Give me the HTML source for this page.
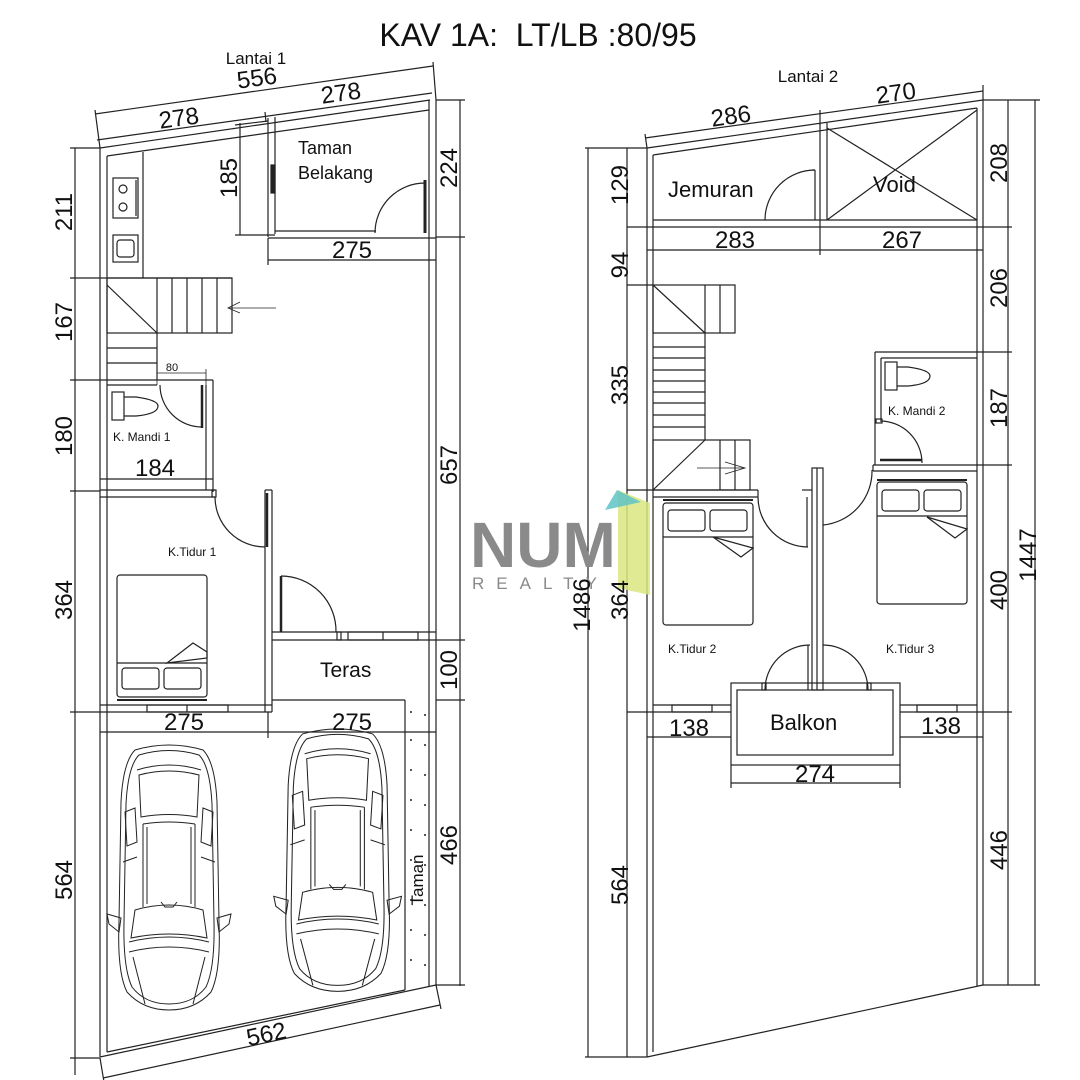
<!DOCTYPE html>
<html><head><meta charset="utf-8"><style>
html,body{margin:0;padding:0;background:#fff}
svg{display:block}
text{font-family:"Liberation Sans",sans-serif;fill:#111}
</style></head><body>
<svg width="1080" height="1080" viewBox="0 0 1080 1080" xmlns="http://www.w3.org/2000/svg">
<defs>
<g id="car" fill="none" stroke="#222" stroke-width="1">
<path d="M20,8 Q54,-2 88,8 Q100,20 102,60 L104,180 Q106,230 96,250 Q80,268 54,268 Q28,268 12,250 Q2,230 4,180 L6,60 Q8,20 20,8 Z"/>
<path d="M24,13 Q54,4 84,13 Q95,24 97,62 L99,180 Q100,226 91,245 Q78,262 54,262 Q30,262 17,245 Q8,226 9,180 L11,62 Q13,24 24,13 Z"/>
<path d="M24,33 Q54,25 84,33 L82,75 Q54,70 26,75 Z"/>
<path d="M22,28 Q54,18 86,28"/>
<path d="M28,82 L28,165 M80,82 L80,165 M32,85 L32,162 M76,85 L76,162"/>
<path d="M28,82 Q54,78 80,82"/>
<path d="M20,168 Q54,158 88,168 L92,196 Q54,188 16,196 Z"/>
<path d="M46,160 L50,165 L58,165 L62,160"/>
<path d="M14,200 Q54,190 94,200 M14,210 Q54,200 94,210"/>
<path d="M18,215 L30,262 M90,215 L78,262"/>
<path d="M10,70 L20,66 L22,100 L12,104 Z M98,70 L88,66 L86,100 L96,104 Z"/>
<path d="M8,120 L22,115 M100,120 L86,115"/>
<path d="M6,176 L-8,172 L-6,182 L4,190 Z M102,176 L116,172 L114,182 L104,190 Z"/>
</g>
</defs>

<!-- Titles -->
<text x="538" y="46" font-size="32" text-anchor="middle">KAV 1A:&#160; LT/LB :80/95</text>
<text x="256" y="64" font-size="17" text-anchor="middle">Lantai 1</text>
<text x="808" y="82" font-size="17" text-anchor="middle">Lantai 2</text>

<g fill="none" stroke="#222" stroke-width="1.2">
<!-- ===== LANTAI 1 ===== -->
<line x1="95" y1="114" x2="433" y2="66"/>
<line x1="97" y1="140" x2="432" y2="93"/>
<line x1="95" y1="110" x2="100" y2="148"/>
<line x1="433" y1="62" x2="436" y2="100"/>
<line x1="265" y1="112" x2="266" y2="122"/>
<polyline points="100,148 430,100"/>
<polyline points="107,156 429,110"/>
<line x1="100" y1="148" x2="100" y2="1057"/>
<line x1="107" y1="156" x2="107" y2="1052"/>
<line x1="429" y1="100" x2="429" y2="986"/>
<line x1="436" y1="100" x2="436" y2="986"/>
<line x1="100" y1="1057" x2="436" y2="985"/>
<line x1="107" y1="1052" x2="405" y2="990"/>
<line x1="75" y1="148" x2="75" y2="1075"/>
<line x1="70" y1="148" x2="100" y2="148"/>
<line x1="70" y1="278" x2="232" y2="278"/>
<line x1="70" y1="380" x2="107" y2="380"/>
<line x1="70" y1="491" x2="100" y2="491"/>
<line x1="70" y1="712" x2="100" y2="712"/>
<line x1="70" y1="1058" x2="100" y2="1058"/>
<line x1="460" y1="100" x2="460" y2="986"/>
<line x1="436" y1="100" x2="465" y2="100"/>
<line x1="436" y1="237" x2="465" y2="237"/>
<line x1="436" y1="640" x2="465" y2="640"/>
<line x1="436" y1="700" x2="465" y2="700"/>
<line x1="436" y1="985" x2="465" y2="985"/>
<line x1="143" y1="152" x2="143" y2="278"/>
<rect x="113" y="178" width="25" height="40"/>
<circle cx="123" cy="189" r="4"/><circle cx="123" cy="207" r="4"/>
<line x1="136" y1="180" x2="136" y2="216"/>
<rect x="113" y="235" width="25" height="27"/>
<rect x="117" y="240" width="17" height="17" rx="3"/>
<line x1="240" y1="123" x2="240" y2="235"/>
<line x1="235" y1="125" x2="268" y2="121"/>
<line x1="235" y1="235" x2="275" y2="235"/>
<line x1="268" y1="118" x2="268" y2="237"/>
<line x1="275" y1="117" x2="275" y2="234"/>
<line x1="268" y1="238" x2="436" y2="238"/>
<line x1="275" y1="231" x2="376" y2="231"/>
<rect x="271" y="165" width="4" height="28" fill="#222"/>
<line x1="425" y1="180" x2="425" y2="233" stroke-width="3"/>
<path d="M375,233 A50,50 0 0 1 425,183"/>
<line x1="268" y1="260" x2="436" y2="260"/>
<line x1="268" y1="238" x2="268" y2="265"/>
<rect x="107" y="278" width="125" height="55"/>
<line x1="157" y1="278" x2="157" y2="380"/>
<line x1="172" y1="278" x2="172" y2="333"/>
<line x1="187" y1="278" x2="187" y2="333"/>
<line x1="202" y1="278" x2="202" y2="333"/>
<line x1="217" y1="278" x2="217" y2="333"/>
<line x1="107" y1="285" x2="157" y2="333"/>
<line x1="107" y1="348" x2="157" y2="348"/>
<line x1="107" y1="363" x2="157" y2="363"/>
<line x1="276" y1="308" x2="228" y2="308" stroke-width="0.8"/>
<path d="M240,302 L228,308 L240,313" stroke-width="0.8"/>
<line x1="107" y1="380" x2="213" y2="380"/>
<line x1="107" y1="385" x2="157" y2="385"/>
<line x1="213" y1="380" x2="213" y2="492"/>
<line x1="206" y1="385" x2="206" y2="490"/>
<line x1="157" y1="373" x2="206" y2="373" stroke-width="0.8"/>
<line x1="157" y1="369" x2="157" y2="385" stroke-width="0.8"/>
<line x1="206" y1="369" x2="206" y2="385" stroke-width="0.8"/>
<line x1="202" y1="385" x2="202" y2="428" stroke-width="2.5"/>
<path d="M160,385 A42,42 0 0 0 202,427"/>
<rect x="112" y="392" width="12" height="28"/>
<path d="M124,397 L136,397 Q158,400 158,406 Q158,414 136,416 L124,416"/>
<line x1="100" y1="479" x2="213" y2="479"/>
<line x1="100" y1="490" x2="215" y2="490"/>
<line x1="100" y1="497" x2="215" y2="497"/>
<rect x="212" y="490" width="4" height="7"/>
<line x1="265" y1="490" x2="265" y2="712"/>
<line x1="272" y1="490" x2="272" y2="712"/>
<line x1="265" y1="490" x2="272" y2="490"/>
<line x1="267" y1="493" x2="267" y2="547" stroke-width="2.5"/>
<path d="M215,497 A50,50 0 0 0 265,547"/>
<rect x="117" y="575" width="90" height="122" rx="3"/>
<line x1="117" y1="663" x2="207" y2="663"/>
<rect x="122" y="668" width="37" height="21" rx="3"/>
<rect x="164" y="668" width="37" height="21" rx="3"/>
<path d="M167,663 L193,643 L207,652 L207,658 Z"/>
<line x1="117" y1="700" x2="207" y2="700" stroke-width="2"/>
<line x1="100" y1="705" x2="272" y2="705"/>
<line x1="100" y1="712" x2="272" y2="712"/>
<rect x="147" y="705" width="81" height="7"/>
<line x1="187" y1="705" x2="187" y2="712"/>
<line x1="272" y1="632" x2="436" y2="632"/>
<line x1="272" y1="640" x2="436" y2="640"/>
<line x1="281" y1="576" x2="281" y2="632" stroke-width="2.5"/>
<path d="M281,576 A55,55 0 0 1 336,632"/>
<rect x="337" y="632" width="4" height="8"/>
<rect x="348" y="632" width="70" height="8"/>
<line x1="383" y1="632" x2="383" y2="640"/>
<line x1="272" y1="700" x2="405" y2="700"/>
<line x1="405" y1="700" x2="405" y2="990"/>
<line x1="268" y1="732" x2="436" y2="732"/>
<line x1="100" y1="732" x2="268" y2="732"/>
<line x1="268" y1="712" x2="268" y2="738"/>
<line x1="103" y1="1078" x2="440" y2="1005"/>
<line x1="100" y1="1058" x2="104" y2="1082"/>
<line x1="436" y1="985" x2="441" y2="1009"/>

<!-- ===== LANTAI 2 ===== -->
<line x1="645" y1="138" x2="983" y2="91"/>
<line x1="645" y1="134" x2="647" y2="148"/>
<line x1="820" y1="110" x2="820" y2="125"/>
<line x1="983" y1="85" x2="983" y2="100"/>
<line x1="647" y1="148" x2="983" y2="100"/>
<line x1="653" y1="155" x2="977" y2="108"/>
<line x1="647" y1="148" x2="647" y2="1057"/>
<line x1="653" y1="155" x2="653" y2="1052"/>
<line x1="977" y1="108" x2="977" y2="986"/>
<line x1="983" y1="100" x2="983" y2="985"/>
<line x1="647" y1="1057" x2="983" y2="985"/>
<line x1="588" y1="148" x2="588" y2="1057"/>
<line x1="627" y1="148" x2="627" y2="1057"/>
<line x1="585" y1="148" x2="647" y2="148"/>
<line x1="627" y1="227" x2="647" y2="227"/>
<line x1="627" y1="285" x2="653" y2="285"/>
<line x1="627" y1="490" x2="653" y2="490"/>
<line x1="627" y1="712" x2="647" y2="712"/>
<line x1="585" y1="1057" x2="647" y2="1057"/>
<line x1="1008" y1="100" x2="1008" y2="985"/>
<line x1="1035" y1="100" x2="1035" y2="985"/>
<line x1="983" y1="100" x2="1040" y2="100"/>
<line x1="983" y1="227" x2="1012" y2="227"/>
<line x1="983" y1="352" x2="1012" y2="352"/>
<line x1="983" y1="465" x2="1012" y2="465"/>
<line x1="983" y1="712" x2="1012" y2="712"/>
<line x1="983" y1="985" x2="1040" y2="985"/>
<line x1="820" y1="124" x2="820" y2="227"/>
<line x1="827" y1="123" x2="827" y2="220"/>
<line x1="653" y1="220" x2="977" y2="220"/>
<line x1="647" y1="227" x2="983" y2="227"/>
<line x1="815" y1="170" x2="815" y2="220"/>
<line x1="812" y1="170" x2="815" y2="170"/>
<path d="M765,220 A50,50 0 0 1 815,170"/>
<line x1="827" y1="128" x2="977" y2="220"/>
<line x1="827" y1="220" x2="977" y2="110"/>
<line x1="647" y1="250" x2="983" y2="250"/>
<line x1="820" y1="227" x2="820" y2="255"/>
<rect x="653" y="285" width="82" height="48"/>
<line x1="705" y1="285" x2="705" y2="440"/>
<line x1="720" y1="285" x2="720" y2="333"/>
<line x1="653" y1="285" x2="705" y2="333"/>
<line x1="653" y1="347" x2="705" y2="347"/>
<line x1="653" y1="358" x2="705" y2="358"/>
<line x1="653" y1="370" x2="705" y2="370"/>
<line x1="653" y1="381" x2="705" y2="381"/>
<line x1="653" y1="392" x2="705" y2="392"/>
<line x1="653" y1="403" x2="705" y2="403"/>
<line x1="653" y1="415" x2="705" y2="415"/>
<line x1="653" y1="427" x2="705" y2="427"/>
<rect x="653" y="440" width="97" height="50"/>
<line x1="653" y1="490" x2="705" y2="440"/>
<line x1="720" y1="440" x2="720" y2="490"/>
<line x1="735" y1="440" x2="735" y2="490"/>
<line x1="697" y1="468" x2="745" y2="468" stroke-width="0.8"/>
<path d="M725,462 L745,468 L725,474" stroke-width="0.8"/>
<line x1="875" y1="352" x2="983" y2="352"/>
<line x1="881" y1="358" x2="977" y2="358"/>
<line x1="875" y1="352" x2="875" y2="465"/>
<line x1="881" y1="358" x2="881" y2="420"/>
<rect x="876" y="419" width="6" height="4"/>
<rect x="885" y="362" width="12" height="28"/>
<path d="M897,367 L908,367 Q930,370 930,376 Q930,384 908,386 L897,386"/>
<path d="M880,421 A42,42 0 0 1 922,463"/>
<line x1="880" y1="460" x2="922" y2="460" stroke-width="2.5"/>
<line x1="873" y1="465" x2="983" y2="465"/>
<line x1="873" y1="471" x2="977" y2="471"/>
<line x1="873" y1="465" x2="873" y2="471"/>
<line x1="653" y1="490" x2="758" y2="490"/>
<line x1="653" y1="497" x2="758" y2="497"/>
<line x1="758" y1="490" x2="758" y2="497"/>
<path d="M758,497 A50,50 0 0 0 808,547"/>
<line x1="807" y1="497" x2="807" y2="547"/>
<line x1="802" y1="490" x2="812" y2="490"/>
<rect x="812" y="468" width="11" height="222"/>
<line x1="817" y1="468" x2="817" y2="690"/>
<path d="M823,525 A54,54 0 0 0 872,470"/>
<rect x="663" y="503" width="90" height="122" rx="3"/>
<line x1="663" y1="500" x2="753" y2="500" stroke-width="2"/>
<rect x="668" y="510" width="37" height="21" rx="3"/>
<rect x="710" y="510" width="37" height="21" rx="3"/>
<path d="M713,537 L753,548 L741,557 Z"/>
<line x1="663" y1="537" x2="753" y2="537"/>
<rect x="877" y="482" width="90" height="122" rx="3"/>
<line x1="877" y1="480" x2="967" y2="480" stroke-width="2"/>
<rect x="882" y="490" width="37" height="21" rx="3"/>
<rect x="924" y="490" width="37" height="21" rx="3"/>
<path d="M927,517 L967,529 L955,538 Z"/>
<line x1="877" y1="516" x2="967" y2="516"/>
<path d="M765,690 A45,45 0 0 1 810,645"/>
<line x1="808" y1="645" x2="808" y2="690"/>
<path d="M868,690 A45,45 0 0 0 823,645"/>
<rect x="762" y="683" width="4" height="7"/>
<rect x="867" y="683" width="4" height="7"/>
<rect x="731" y="683" width="169" height="82"/>
<rect x="737" y="690" width="156" height="65"/>
<line x1="653" y1="705" x2="731" y2="705"/>
<line x1="647" y1="712" x2="731" y2="712"/>
<line x1="900" y1="705" x2="977" y2="705"/>
<line x1="900" y1="712" x2="983" y2="712"/>
<rect x="672" y="705" width="40" height="7"/>
<rect x="917" y="705" width="40" height="7"/>
<line x1="647" y1="737" x2="731" y2="737"/>
<line x1="900" y1="737" x2="983" y2="737"/>
<line x1="731" y1="783" x2="900" y2="783"/>
<line x1="731" y1="765" x2="731" y2="788"/>
<line x1="900" y1="765" x2="900" y2="788"/>
</g>

<g fill="#222">
<circle cx="411" cy="712" r="1"/><circle cx="425" cy="715" r="1"/>
<circle cx="411" cy="740" r="1"/><circle cx="425" cy="745" r="1"/>
<circle cx="411" cy="770" r="1"/><circle cx="425" cy="775" r="1"/>
<circle cx="411" cy="800" r="1"/><circle cx="425" cy="805" r="1"/>
<circle cx="411" cy="830" r="1"/><circle cx="425" cy="835" r="1"/>
<circle cx="411" cy="860" r="1"/><circle cx="425" cy="865" r="1"/>
<circle cx="411" cy="900" r="1"/><circle cx="425" cy="905" r="1"/>
<circle cx="411" cy="930" r="1"/><circle cx="425" cy="935" r="1"/>
<circle cx="411" cy="960" r="1"/><circle cx="425" cy="965" r="1"/>
</g>

<use href="#car" transform="translate(115,742)"/>
<use href="#car" transform="translate(282,726) scale(1.03,0.99)"/>

<polygon points="618,490 650,503 650,595 618,588" fill="#dbe680" opacity="0.85"/>
<polygon points="605,510 617,490 641,502" fill="#5fc3c4" opacity="0.85"/>
<text x="470" y="567" font-size="64" font-weight="bold" style="fill:#8a8a8a">NUM</text>
<text x="472" y="589" font-size="17" letter-spacing="12" style="fill:#8a8a8a">REALTY</text>

<g font-size="24" text-anchor="middle">
<text transform="translate(258,86) rotate(-8)">556</text>
<text transform="translate(180,126) rotate(-8)">278</text>
<text transform="translate(342,101) rotate(-8)">278</text>
<text transform="translate(72,212) rotate(-90)">211</text>
<text transform="translate(72,322) rotate(-90)">167</text>
<text transform="translate(72,436) rotate(-90)">180</text>
<text transform="translate(72,600) rotate(-90)">364</text>
<text transform="translate(72,880) rotate(-90)">564</text>
<text transform="translate(237,178) rotate(-90)">185</text>
<text transform="translate(457,168) rotate(-90)">224</text>
<text transform="translate(457,465) rotate(-90)">657</text>
<text transform="translate(457,670) rotate(-90)">100</text>
<text transform="translate(457,845) rotate(-90)">466</text>
<text x="352" y="258">275</text>
<text x="155" y="476">184</text>
<text x="184" y="730">275</text>
<text x="352" y="730">275</text>
<text transform="translate(268,1042) rotate(-12)">562</text>
</g>
<text x="298" y="154" font-size="18">Taman</text>
<text x="298" y="179" font-size="18">Belakang</text>
<text x="172" y="371" font-size="11" text-anchor="middle">80</text>
<text x="113" y="441" font-size="12">K. Mandi 1</text>
<text x="168" y="556" font-size="12">K.Tidur 1</text>
<text x="320" y="677" font-size="21">Teras</text>
<text transform="translate(423,880) rotate(-90)" font-size="17" text-anchor="middle">Taman</text>

<g font-size="24" text-anchor="middle">
<text transform="translate(732,124) rotate(-8)">286</text>
<text transform="translate(897,101) rotate(-8)">270</text>
<text x="735" y="248">283</text>
<text x="902" y="248">267</text>
<text transform="translate(628,185) rotate(-90)">129</text>
<text transform="translate(628,265) rotate(-90)">94</text>
<text transform="translate(628,385) rotate(-90)">335</text>
<text transform="translate(628,600) rotate(-90)">364</text>
<text transform="translate(628,885) rotate(-90)">564</text>
<text transform="translate(590,605) rotate(-90)">1486</text>
<text transform="translate(1007,163) rotate(-90)">208</text>
<text transform="translate(1007,288) rotate(-90)">206</text>
<text transform="translate(1007,408) rotate(-90)">187</text>
<text transform="translate(1007,590) rotate(-90)">400</text>
<text transform="translate(1007,850) rotate(-90)">446</text>
<text transform="translate(1036,555) rotate(-90)">1447</text>
<text x="689" y="736">138</text>
<text x="941" y="734">138</text>
<text x="815" y="782">274</text>
</g>
<text x="668" y="197" font-size="22">Jemuran</text>
<text x="873" y="192" font-size="22">Void</text>
<text x="888" y="415" font-size="12">K. Mandi 2</text>
<text x="668" y="653" font-size="12">K.Tidur 2</text>
<text x="886" y="653" font-size="12">K.Tidur 3</text>
<text x="770" y="730" font-size="22">Balkon</text>
</svg>
</body></html>
